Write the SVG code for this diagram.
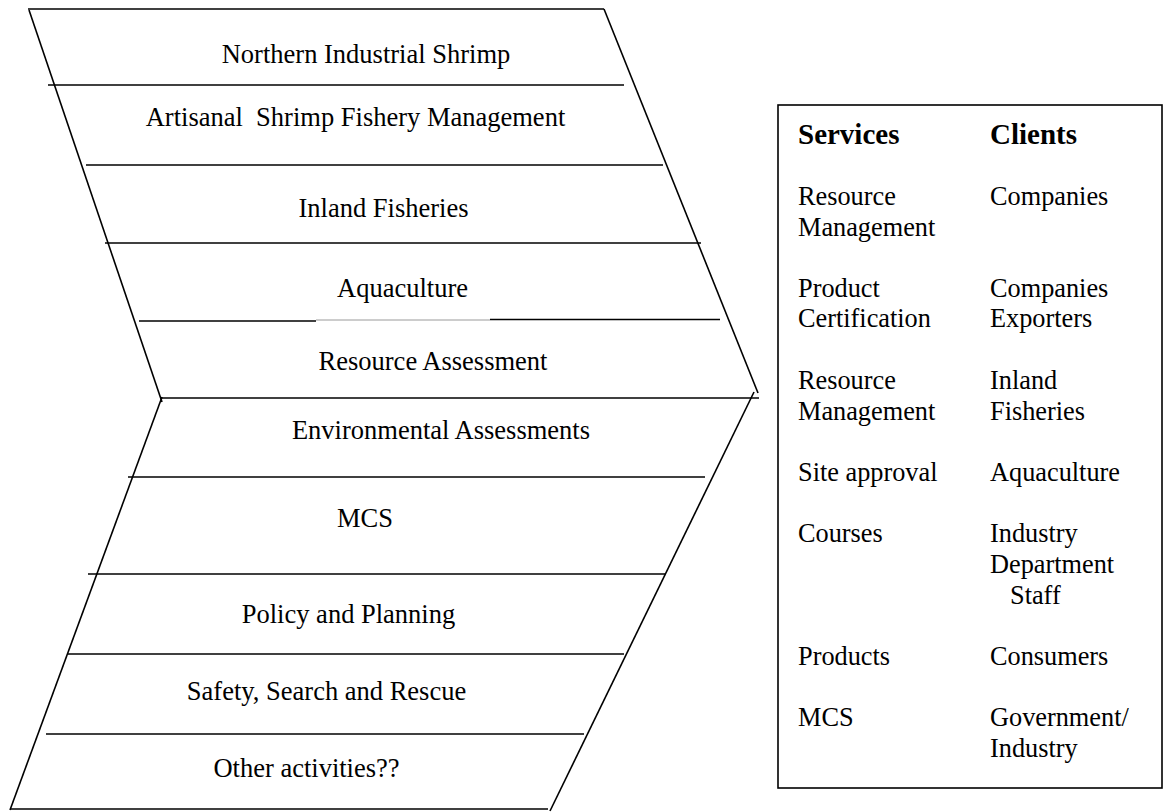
<svg xmlns="http://www.w3.org/2000/svg" width="1165" height="812" viewBox="0 0 1165 812">
  <style>
    .ln { stroke: #000; stroke-width: 1.6; fill: none; stroke-linecap: butt; }
    .faint { stroke: #9a9a9a; stroke-width: 1; fill: none; }
    .band { font-family: "Liberation Serif", "Times New Roman", serif; font-size: 26.5px; fill: #000; text-anchor: middle; }
    .cell { font-family: "Liberation Serif", "Times New Roman", serif; font-size: 26.3px; fill: #000; }
    .head { font-family: "Liberation Serif", "Times New Roman", serif; font-size: 29px; font-weight: bold; fill: #000; }
  </style>
  <rect x="0" y="0" width="1165" height="812" fill="#fff"/>

  <!-- chevron outline: upper and lower parallelograms -->
  <g id="chevron-outline">
    <line class="ln" x1="28" y1="9" x2="604" y2="9"/>
    <line class="ln" x1="29" y1="10" x2="162" y2="402"/>
    <line class="ln" x1="604" y1="9" x2="758" y2="393"/>
    <line class="ln" x1="160" y1="398" x2="759" y2="398"/>
    <line class="ln" x1="162" y1="397" x2="10" y2="810"/>
    <line class="ln" x1="754" y1="392" x2="550" y2="811"/>
    <line class="ln" x1="10" y1="809" x2="548" y2="809"/>
  </g>

  <!-- separators between the activity bands -->
  <g id="connectors">
    <line class="ln" x1="48" y1="85" x2="624" y2="85"/>
    <line class="ln" x1="86" y1="165" x2="663" y2="165"/>
    <line class="ln" x1="105" y1="243" x2="701" y2="243"/>
    <line class="ln" x1="139" y1="321" x2="316" y2="321"/>
    <line class="faint" x1="316" y1="320" x2="490" y2="320"/>
    <line class="ln" x1="490" y1="319.5" x2="720" y2="319.5"/>
    <line class="ln" x1="128" y1="477" x2="705" y2="477"/>
    <line class="ln" x1="88" y1="574" x2="665" y2="574"/>
    <line class="ln" x1="68" y1="654" x2="624" y2="654"/>
    <line class="ln" x1="46" y1="734" x2="584" y2="734"/>
  </g>

  <g id="band-northern-shrimp"><text class="band" x="366" y="63">Northern Industrial Shrimp</text></g>
  <g id="band-artisanal-shrimp"><text class="band" x="355.5" y="126" xml:space="preserve">Artisanal  Shrimp Fishery Management</text></g>
  <g id="band-inland"><text class="band" x="383.5" y="217">Inland Fisheries</text></g>
  <g id="band-aquaculture"><text class="band" x="402.5" y="297">Aquaculture</text></g>
  <g id="band-resource-assessment"><text class="band" x="433" y="370">Resource Assessment</text></g>
  <g id="band-environmental"><text class="band" x="441" y="439">Environmental Assessments</text></g>
  <g id="band-mcs"><text class="band" x="365" y="527">MCS</text></g>
  <g id="band-policy"><text class="band" x="348.5" y="623">Policy and Planning</text></g>
  <g id="band-safety"><text class="band" x="326.5" y="700">Safety, Search and Rescue</text></g>
  <g id="band-other"><text class="band" x="306.5" y="777">Other activities??</text></g>

  <!-- services / clients table -->
  <g id="services-clients">
    <rect x="778" y="105" width="384" height="683" fill="none" stroke="#000" stroke-width="1.6"/>
    <text class="head" x="798" y="144">Services</text>
    <text class="head" x="990" y="144">Clients</text>

    <text class="cell" x="798" y="205">Resource</text>
    <text class="cell" x="798" y="236">Management</text>
    <text class="cell" x="990" y="205">Companies</text>

    <text class="cell" x="798" y="297">Product</text>
    <text class="cell" x="798" y="327">Certification</text>
    <text class="cell" x="990" y="297">Companies</text>
    <text class="cell" x="990" y="327">Exporters</text>

    <text class="cell" x="798" y="389">Resource</text>
    <text class="cell" x="798" y="420">Management</text>
    <text class="cell" x="990" y="389">Inland</text>
    <text class="cell" x="990" y="420">Fisheries</text>

    <text class="cell" x="798" y="481">Site approval</text>
    <text class="cell" x="990" y="481">Aquaculture</text>

    <text class="cell" x="798" y="542">Courses</text>
    <text class="cell" x="990" y="542">Industry</text>
    <text class="cell" x="990" y="573">Department</text>
    <text class="cell" x="1010" y="604">Staff</text>

    <text class="cell" x="798" y="665">Products</text>
    <text class="cell" x="990" y="665">Consumers</text>

    <text class="cell" x="798" y="726">MCS</text>
    <text class="cell" x="990" y="726">Government/</text>
    <text class="cell" x="990" y="757">Industry</text>
  </g>
</svg>
